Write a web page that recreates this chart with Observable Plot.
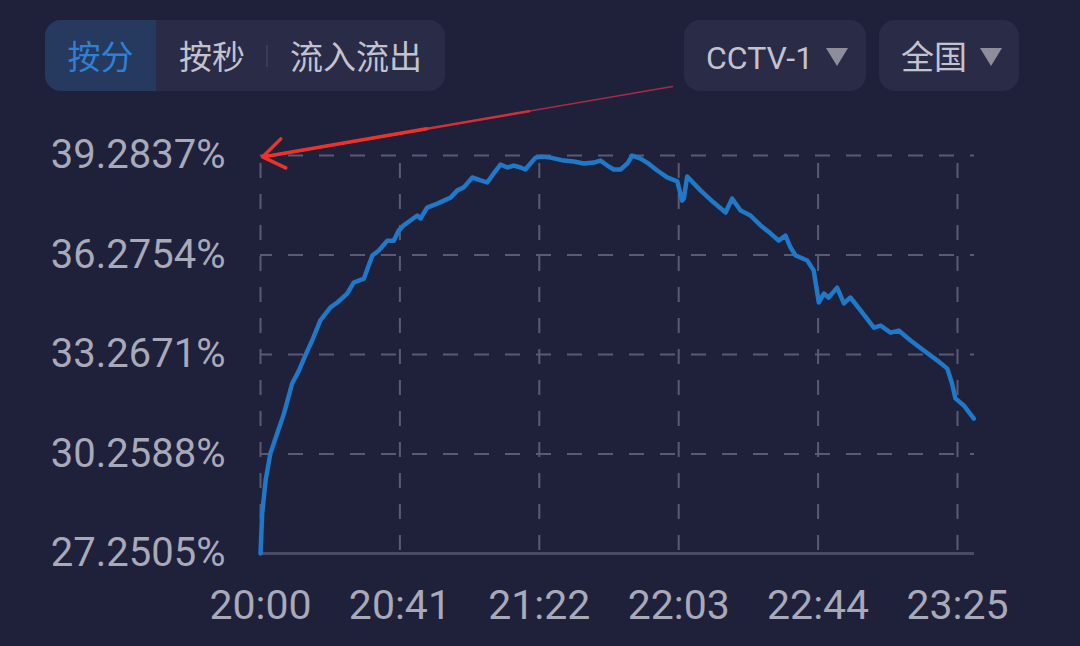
<!DOCTYPE html>
<html>
<head>
<meta charset="utf-8">
<script src="https://cdn.jsdelivr.net/npm/d3@7"></script>
<script src="https://cdn.jsdelivr.net/npm/@observablehq/plot@0.6"></script>
<style>
  html, body { margin: 0; padding: 0; background: #1f2039; }
  #wrap { position: relative; width: 1080px; height: 646px; overflow: hidden; background: #1f2039; }
  #chart { position: absolute; left: 0; top: 0; }
  .pill { position: absolute; top: 20px; height: 71px; border-radius: 16px; background: #2a2b47;
          font-family: "Noto Sans CJK SC", "Noto Sans", sans-serif; font-size: 33px; color: #c3c3cf; }
  .seg { position: absolute; top: 0; height: 71px; line-height: 71px; text-align: center; }
  .seg.on { background: #26395f; color: #2f80d3; border-radius: 16px 0 0 16px; }
  .sep { position: absolute; top: 25px; width: 2px; height: 22px; background: #3a3b57; }
  .tri { display: inline-block; width: 0; height: 0; border-left: 11px solid transparent; border-right: 11px solid transparent;
         border-top: 18px solid #8d8d9c; vertical-align: middle; margin-left: 13px; margin-top: -6px; }
  .dd { line-height: 71px; padding-left: 22px; }
  .dd .latin { font-family: Roboto, "Noto Sans", sans-serif; font-size: 32px; }
</style>
</head>
<body>
<div id="wrap">
  <div id="chart"></div>
  <div class="pill" style="left:45px;width:400px;">
    <div class="seg on" style="left:0;width:111px;">按分</div>
    <div class="seg" style="left:111px;width:112px;">按秒</div>
    <div class="sep" style="left:221px;"></div>
    <div class="seg" style="left:222px;width:178px;">流入流出</div>
  </div>
  <div class="pill dd" style="left:684px;width:160px;"><span class="latin">CCTV-1</span><span class="tri"></span></div>
  <div class="pill dd" style="left:879px;width:118px;">全国<span class="tri"></span></div>
</div>
<script>
// ---- data ----
const xTickLabels = ["20:00", "20:41", "21:22", "22:03", "22:44", "23:25"];
const xDomainLabels = ["20:00", "23:30"];
const yTickValues = [27.2505, 30.2588, 33.2671, 36.2754, 39.2837];

// minutes after 20:00
const minutes = [0, 0.5, 1.5, 2.9, 4.9, 6.9, 9.3, 11.3, 13.2, 15.2, 17.6, 20.6, 22.6, 25.5, 27.4, 30.4,
  32.9, 34.8, 37.3, 39.2, 40.7, 42.1, 44.1, 46.1, 47.1, 49.0, 52.0, 55.9, 57.9, 59.8, 62.3, 64.7,
  66.7, 68.6, 70.6, 72.6, 74.5, 76.5, 77.9, 79.4, 80.9, 82.4, 85.3, 89.2, 92.1, 95.1, 98.0, 100.0,
  102.0, 103.9, 105.9, 107.9, 109.3, 111.8, 113.7, 116.7, 119.6, 122.6, 124.0, 124.5, 125.5, 129.4,
  133.3, 136.8, 138.7, 141.2, 144.1, 147.1, 150.0, 152.4, 154.4, 155.9, 157.4, 160.8, 162.7, 164.2,
  165.7, 167.1, 169.6, 171.6, 173.5, 176.5, 180.4, 182.4, 185.3, 187.7, 191.2, 195.1, 199.0, 202.0,
  203.4, 204.4, 206.9, 209.8];
// audience share (%)
const share = [27.25, 28.46, 29.46, 30.27, 30.88, 31.48, 32.39, 32.78, 33.24, 33.69, 34.30, 34.69, 34.84, 35.11, 35.44, 35.56,
  36.26, 36.41, 36.71, 36.71, 37.02, 37.17, 37.32, 37.47, 37.38, 37.71, 37.83, 38.01, 38.23, 38.32, 38.62, 38.53,
  38.47, 38.74, 39.01, 38.92, 38.98, 38.92, 38.86, 39.04, 39.22, 39.25, 39.22, 39.13, 39.10, 39.04, 39.07, 39.13,
  38.98, 38.86, 38.86, 39.04, 39.28, 39.19, 39.07, 38.83, 38.62, 38.50, 37.92, 37.98, 38.65, 38.23,
  37.86, 37.56, 37.98, 37.62, 37.47, 37.17, 36.93, 36.71, 36.86, 36.50, 36.26, 36.11, 35.81, 34.84,
  35.11, 34.99, 35.29, 34.81, 34.99, 34.60, 34.08, 34.14, 33.93, 33.99, 33.69, 33.39, 33.09, 32.84,
  32.39, 31.94, 31.72, 31.33];

// red annotation arrow (minutes, share)
const arrowFrom = [121.2, 41.37];
const arrowTo = [0.6, 39.24];

// ---- build ----
const base = Date.UTC(2020, 0, 1, 20, 0);
const parseHM = s => { const [h, m] = s.split(":").map(Number); return new Date(Date.UTC(2020, 0, 1, h, m)); };
const atMin = m => new Date(base + m * 60000);
const xTicks = xTickLabels.map(parseHM);
const series = minutes.map((m, i) => ({t: atMin(m), v: share[i]}));
// arrow drawn as tapered pieces: fraction of the way from start where each piece begins
const arrowPieces = [0, 0.35, 0.6];
const arrowRows = arrowPieces.map((f, i) => ({
  x1: atMin(arrowFrom[0] * (1 - f) + arrowTo[0] * f), y1: arrowFrom[1] * (1 - f) + arrowTo[1] * f,
  x2: atMin(arrowTo[0]), y2: arrowTo[1], k: i
}));

const grid = "#5a5b73";
const chart = Plot.plot({
  width: 1080,
  height: 646,
  marginLeft: 260,
  marginRight: 106,
  marginTop: 155,
  marginBottom: 93,
  style: {background: "transparent", color: "#a8a9b9", fontFamily: "Roboto, sans-serif", fontSize: "40px"},
  x: {type: "utc", domain: xDomainLabels.map(parseHM)},
  y: {domain: [yTickValues[0], yTickValues[yTickValues.length - 1]]},
  marks: [
    Plot.ruleY(yTickValues.slice(1), {stroke: grid, strokeWidth: 2, strokeDasharray: "15,16", strokeDashoffset: -28}),
    Plot.ruleX(xTicks, {stroke: grid, strokeWidth: 2, strokeDasharray: "15,16", strokeDashoffset: -8}),
    Plot.ruleY([yTickValues[0]], {stroke: "#4a4b64", strokeWidth: 3}),
    Plot.axisY({ticks: yTickValues, tickFormat: d => d.toFixed(4) + "%", tickSize: 0, tickPadding: 35, fontSize: 40, fill: "#a8a9b9", label: null}),
    Plot.axisX({ticks: xTicks, tickFormat: d3.utcFormat("%H:%M"), tickSize: 0, tickPadding: 36, fontSize: 41, fill: "#a8a9b9", label: null}),
    Plot.line(series, {x: "t", y: "v", stroke: "#1f78c8", strokeWidth: 4.5, strokeLinejoin: "round", strokeLinecap: "round"}),
    Plot.arrow([arrowRows[0]], {x1: "x1", y1: "y1", x2: "x2", y2: "y2", stroke: "#a82a48", strokeWidth: 1.5, headLength: 0}),
    Plot.arrow([arrowRows[1]], {x1: "x1", y1: "y1", x2: "x2", y2: "y2", stroke: "#d23035", strokeWidth: 2.5, headLength: 0}),
    Plot.arrow([arrowRows[2]], {x1: "x1", y1: "y1", x2: "x2", y2: "y2", stroke: "#ec332b", strokeWidth: 3.5, headLength: 11, headAngle: 70})
  ]
});
document.getElementById("chart").appendChild(chart);
</script>
</body>
</html>
